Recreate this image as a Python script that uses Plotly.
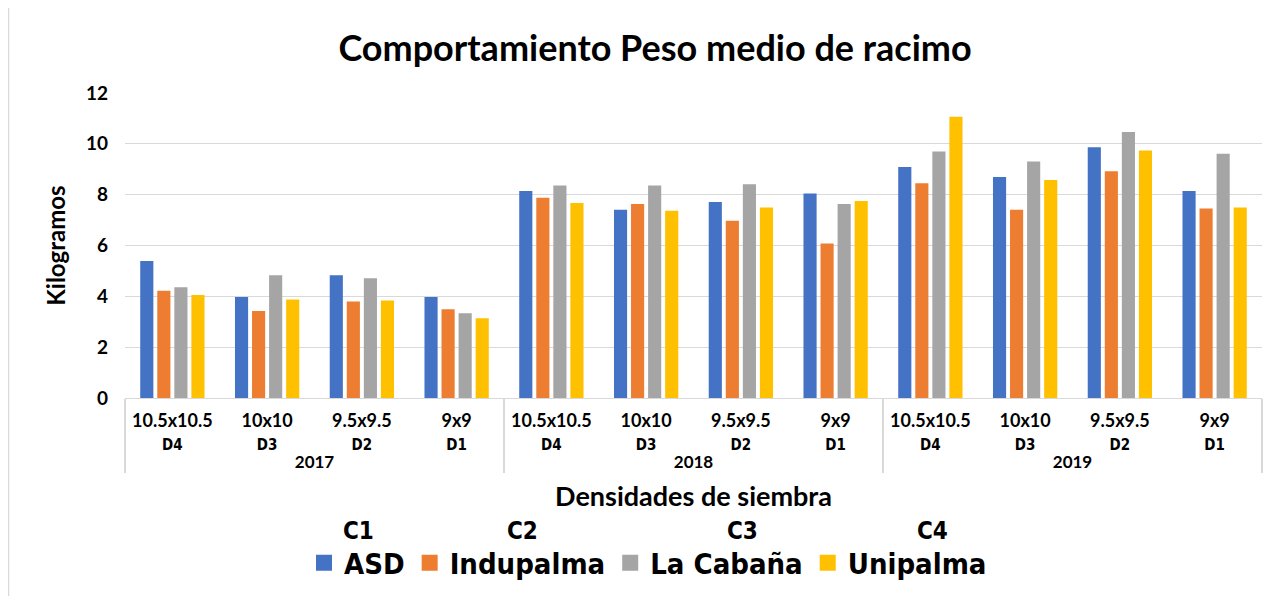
import plotly.graph_objects as go

years = ["2017", "2018", "2019"]
densities = ["10.5x10.5", "10x10", "9.5x9.5", "9x9"]
dens_codes = ["D4", "D3", "D2", "D1"]
series_names = ["ASD", "Indupalma", "La Cabaña", "Unipalma"]
series_codes = ["C1", "C2", "C3", "C4"]
colors = ["#4472C4", "#ED7D31", "#A5A5A5", "#FFC000"]

# values per series, ordered 2017 D4..D1, 2018 D4..D1, 2019 D4..D1
asd = [5.39, 3.97, 4.83, 3.97, 8.14, 7.41, 7.71, 8.05, 9.09, 8.70, 9.87, 8.14]
indupalma = [4.22, 3.42, 3.80, 3.49, 7.88, 7.63, 6.97, 6.08, 8.45, 7.41, 8.92, 7.46]
la_cabana = [4.36, 4.83, 4.71, 3.33, 8.36, 8.36, 8.41, 7.63, 9.70, 9.30, 10.47, 9.61]
unipalma = [4.05, 3.88, 3.84, 3.14, 7.67, 7.37, 7.50, 7.75, 11.07, 8.58, 9.74, 7.50]
values = [asd, indupalma, la_cabana, unipalma]

NARROW = "Liberation Sans Narrow, DejaVu Sans Condensed, Roboto, sans-serif"

year_labels = [f"<span style='font-size:17px'>{y}</span>" for y in years]
dens_labels = [
    f"{d}<br><span style=\"font-family:'Liberation Sans Narrow','DejaVu Sans Condensed',Roboto;font-size:15px\">{c}</span>"
    for d, c in zip(densities, dens_codes)
]
x_outer = [yl for yl in year_labels for _ in dens_labels]
x_inner = [dl for _ in year_labels for dl in dens_labels]

fig = go.Figure()
for name, vals, col in zip(series_names, values, colors):
    fig.add_trace(go.Bar(
        x=[x_outer, x_inner], y=vals, name=name,
        marker=dict(color=col, line=dict(width=0)),
        showlegend=False, legendgroup=name,
    ))
for name, col in zip(series_names, colors):
    fig.add_trace(go.Scatter(
        x=[None], y=[None], mode="markers", name=name, legendgroup=name,
        marker=dict(color=col, symbol="square", size=16),
    ))

# page places the figure 8px from the top-left corner
OFF = 8
W, H = 1286 - OFF, 596 - OFF
L, T = 125 - OFF, 93 - OFF
R = W - (1262 - OFF)
B = H - (398 - OFF)
pw, ph = W - L - R, H - T - B

def px_x(p):
    return (p - OFF - L) / pw

def px_y(p):
    return (H - B - (p - OFF)) / ph

fig.update_layout(
    width=W, height=H,
    margin=dict(l=L, r=R, t=T, b=B, autoexpand=False),
    paper_bgcolor="white", plot_bgcolor="white",
    barmode="group", bargap=0.28, bargroupgap=0.23,
    title=dict(
        text="Comportamiento Peso medio de racimo",
        font=dict(family="Lato", size=36, weight="bold", color="#000000"),
        x=(655 - OFF) / W, xref="container", xanchor="center",
        y=1 - (48 - OFF) / H, yref="container", yanchor="middle",
    ),
    font=dict(family="Lato", color="#000000"),
    legend=dict(
        orientation="h",
        x=px_x(304), xanchor="left",
        y=px_y(563), yanchor="middle",
        font=dict(family=NARROW, size=29, weight="bold", color="#000000"),
        bgcolor="rgba(0,0,0,0)",
    ),
    xaxis=dict(
        type="multicategory",
        showline=True, linecolor="#D9D9D9", linewidth=1,
        showdividers=True, dividercolor="#D9D9D9", dividerwidth=1.5,
        tickfont=dict(family="Lato", size=18, weight="bold", color="#000000"),
        ticklabelstandoff=6,
        showgrid=False,
        title=dict(
            text="Densidades de siembra",
            font=dict(family="Lato", size=27, weight="bold", color="#000000"),
            standoff=16,
        ),
        automargin=False,
    ),
    yaxis=dict(
        range=[0, 12], dtick=2,
        showgrid=True, gridcolor="#D9D9D9", gridwidth=1,
        zeroline=False, showline=False,
        tickfont=dict(family="Lato", size=19, weight="bold", color="#000000"),
        ticklabelstandoff=16,
        title=dict(
            text="Kilogramos",
            font=dict(family="Lato", size=24, weight="bold", color="#000000"),
            standoff=13,
        ),
        automargin=False,
    ),
)

for code, xp in zip(series_codes, [358, 522, 742, 932]):
    fig.add_annotation(
        text=code, x=px_x(xp), y=px_y(531), xref="paper", yref="paper",
        showarrow=False, xanchor="center", yanchor="middle",
        font=dict(family=NARROW, size=24, weight="bold", color="#000000"),
    )

fig.add_shape(
    type="rect", xref="paper", yref="paper",
    x0=px_x(8.5), x1=px_x(1300), y0=px_y(610), y1=px_y(7),
    line=dict(color="#D9D9D9", width=1.5), fillcolor="rgba(0,0,0,0)", layer="below",
)

fig.write_html("out.html")
